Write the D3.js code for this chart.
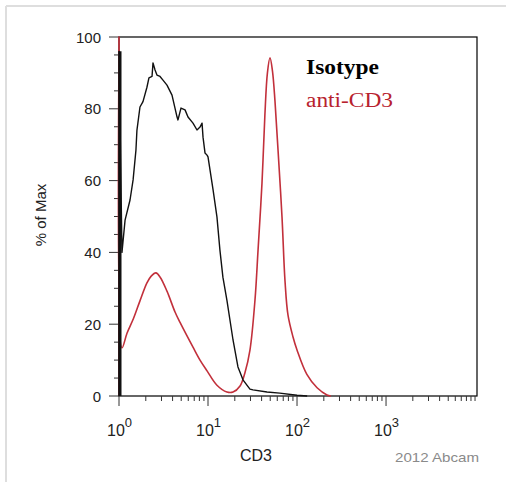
<!DOCTYPE html>
<html>
<head>
<meta charset="utf-8">
<script src="https://cdn.jsdelivr.net/npm/d3@7"></script>
<style>
  html, body { margin: 0; padding: 0; background: #fff; }
  svg { display: block; }
</style>
</head>
<body>
<svg id="chart" width="506" height="482"></svg>
<script>
// ---- data ----
const seriesNames = ["Isotype", "anti-CD3"];
const seriesColors = ["#111111", "#c2303b"];

// [CD3 intensity, % of Max]
const isotype = [
  [1,0],[1,96],[1.08,40],[1.17,49],[1.33,54.6],[1.44,60.2],[1.55,68.5],[1.59,74],
  [1.72,80.5],[1.86,82],[2.06,86],[2.17,88.6],[2.35,89],[2.41,92.8],[2.54,90.8],
  [2.67,89.4],[2.89,89],[3.12,88],[3.46,86.6],[3.94,83.8],[4.49,77.7],[4.6,76.9],
  [4.97,80.2],[5.52,79.7],[5.96,77.7],[6.78,76],[7.52,74.1],[8.13,74.9],[8.57,76],
  [8.79,72.1],[9.25,67.7],[9.75,67.1],[10,66.6],[11.4,57.4],[12.6,49.9],[13.6,40.7],
  [14.7,33.1],[16.3,26.7],[19.1,15.6],[21.7,8.1],[24.7,4.5],[29.6,1.9],[32,1.7],
  [46,1.1],[64,0.8],[100,0.2],[130,0]
];
const antiCD3 = [
  [1,0],[1,100],[1.08,13.4],[1.23,17.5],[1.45,21.5],[1.72,26.5],[2.06,31.5],[2.3,33.4],
  [2.6,34.3],[2.9,33.1],[3.46,29.2],[4.26,23.4],[4.85,20.5],[6.78,13.6],[8.13,10],
  [9.75,7.0],[12.6,3.0],[16.3,1.1],[19.1,1.1],[22.9,2.8],[26,6.5],[29.6,12.8],
  [33.7,26.7],[36.5,40.7],[40.4,59.3],[43.5,78],[46.5,90],[49.7,94.2],
  [53,90.5],[56.6,82],[61.2,68.5],[67.8,49.9],[73.3,32],[79.2,22.5],
  [90,16.5],[100,12.8],[129,6.0],[168,2.3],[217,0.3],[240,0]
];

const xTickExps = [0, 1, 2, 3];
const yTicks = [0, 20, 40, 60, 80, 100];
const xLabel = "CD3";
const yLabel = "% of Max";
const credit = "2012 Abcam";

// ---- layout ----
const svg = d3.select("#chart");
const L = 119, R = 477, T = 37, B = 396;
const x = d3.scaleLog().domain([1, Math.pow(10, 4.022)]).range([L, R]);
const y = d3.scaleLinear().domain([0, 100]).range([B, T]);
const font = "'Liberation Sans', Arial, sans-serif";
const serif = "'Liberation Serif', 'Times New Roman', serif";

// outer light border
svg.append("line").attr("x1", 6).attr("x2", 506).attr("y1", 6).attr("y2", 6)
  .attr("stroke", "#dedede").attr("stroke-width", 2);
svg.append("line").attr("x1", 6).attr("x2", 6).attr("y1", 6).attr("y2", 482)
  .attr("stroke", "#dedede").attr("stroke-width", 2);

// frame
svg.append("rect").attr("x", L).attr("y", T).attr("width", R - L).attr("height", B - T)
  .attr("fill", "none").attr("stroke", "#000").attr("stroke-width", 1.2);

// y ticks
const yMinor = d3.range(0, 101, 5);
svg.append("g").selectAll("line").data(yMinor).join("line")
  .attr("x1", d => d % 20 === 0 ? L - 10 : L - 5).attr("x2", L)
  .attr("y1", d => y(d)).attr("y2", d => y(d))
  .attr("stroke", "#333").attr("stroke-width", 1);
svg.append("g").selectAll("text").data(yTicks).join("text")
  .attr("x", 101).attr("y", d => y(d) + 5.5)
  .attr("text-anchor", "end").attr("font-family", font).attr("font-size", 15)
  .attr("fill", "#222").text(d => d);

// x ticks
const xMinor = [];
for (let e = 0; e < 4; e++) for (let m = 1; m <= 9; m++) xMinor.push(m * Math.pow(10, e));
xMinor.push(10000);
svg.append("g").selectAll("line").data(xMinor).join("line")
  .attr("x1", d => x(d)).attr("x2", d => x(d))
  .attr("y1", B).attr("y2", d => (Math.log10(d) % 1 === 0 && d < 10000) ? B + 10 : B + 5)
  .attr("stroke", "#333").attr("stroke-width", 1);
const xt = svg.append("g").selectAll("text").data(xTickExps).join("text")
  .attr("x", d => x(Math.pow(10, d)) - 12).attr("y", 436)
  .attr("font-family", font).attr("font-size", 16).attr("fill", "#222");
xt.append("tspan").text("10");
xt.append("tspan").attr("dy", -9).attr("font-size", 13).text(d => d);

// axis titles
svg.append("text").attr("transform", "translate(46,215) rotate(-90)")
  .attr("text-anchor", "middle").attr("font-family", font).attr("font-size", 15)
  .attr("fill", "#222").text(yLabel);
svg.append("text").attr("x", 256).attr("y", 461).attr("text-anchor", "middle")
  .attr("font-family", font).attr("font-size", 16).attr("fill", "#222").text(xLabel);
svg.append("text").attr("x", 395).attr("y", 462)
  .attr("font-family", font).attr("font-size", 13).attr("fill", "#8a8a8a")
  .attr("textLength", 84).attr("lengthAdjust", "spacingAndGlyphs").text(credit);

// curves
const line = d3.line().x(d => x(d[0])).y(d => y(d[1]));
const smooth = d3.line().x(d => x(d[0])).y(d => y(d[1])).curve(d3.curveCatmullRom.alpha(0.5));
svg.append("path").datum(antiCD3).attr("d", smooth)
  .attr("fill", "none").attr("stroke", seriesColors[1]).attr("stroke-width", 1.6)
  .attr("stroke-linejoin", "round");
// isotype first-bin spike (thick)
svg.append("line").attr("x1", x(isotype[1][0]) + 1).attr("x2", x(isotype[1][0]) + 1)
  .attr("y1", y(0)).attr("y2", y(isotype[1][1]))
  .attr("stroke", seriesColors[0]).attr("stroke-width", 3);
svg.append("path").datum(isotype).attr("d", line)
  .attr("fill", "none").attr("stroke", seriesColors[0]).attr("stroke-width", 1.4)
  .attr("stroke-linejoin", "round");

// legend
svg.append("text").attr("x", 306).attr("y", 74)
  .attr("font-family", serif).attr("font-weight", "bold").attr("font-size", 20)
  .attr("fill", "#000").attr("textLength", 73).attr("lengthAdjust", "spacingAndGlyphs")
  .text(seriesNames[0]);
svg.append("text").attr("x", 306).attr("y", 107)
  .attr("font-family", serif).attr("font-size", 20)
  .attr("fill", "#b8222e").attr("textLength", 87).attr("lengthAdjust", "spacingAndGlyphs")
  .text(seriesNames[1]);
</script>
</body>
</html>
